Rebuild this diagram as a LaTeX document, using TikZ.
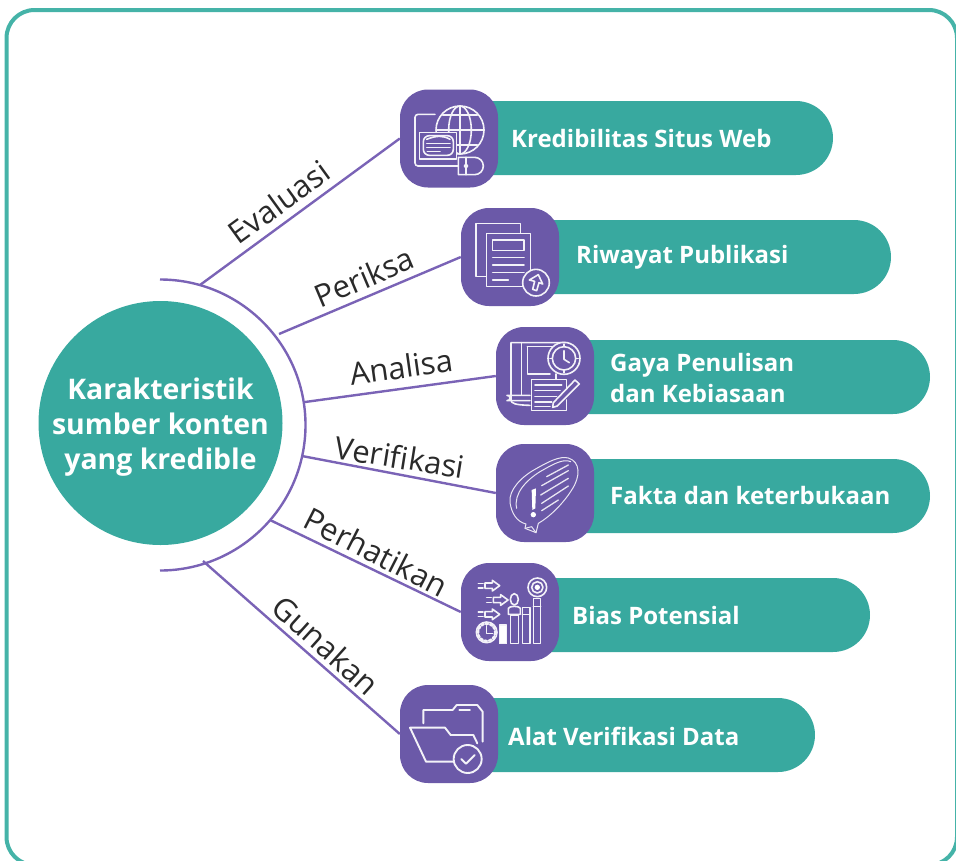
\documentclass[tikz,border=0pt]{standalone}
\usepackage{fontspec}
\setmainfont{Open Sans}
\definecolor{teal1}{HTML}{38A99F}
\definecolor{frame1}{HTML}{45B3A8}
\definecolor{purp}{HTML}{6B59A8}
\definecolor{purpl}{HTML}{7A63B6}
\definecolor{ink}{HTML}{2A2A2A}
\tikzset{
 iconbox/.style={fill=purp,rounded corners=28pt,minimum size=98pt,inner sep=0pt,draw=none},
 bartext/.style={text=white,font=\fontsize{24}{31}\selectfont\bfseries,align=left,anchor=west,inner sep=0pt},
 lab/.style={text=ink,font=\fontsize{31}{36}\selectfont,inner sep=0pt},
 conn/.style={draw=purpl,line width=2.4pt},
 ic/.style={draw=white!92!purp,line width=1.6pt,line join=round,line cap=round},
 icthin/.style={draw=white!85!purp,line width=1pt,line join=round,line cap=round},
}
\newcommand{\barshape}[5]{% name x1 x2 y1 y2
 \fill[teal1] (#2,#4) -- (#3-37,#4) arc[start angle=-90,end angle=90,radius=37] -- (#2,#5) -- cycle;
 \coordinate (#1) at (#2,#4);
}
\begin{document}
\begin{tikzpicture}[x=1pt,y=-1pt]
\useasboundingbox (0,0) rectangle (956,860);
\begin{scope}
\clip (0,0) rectangle (956,860);
\draw[frame1,line width=4pt,rounded corners=28pt] (6.5,10) rectangle (957,865);
\end{scope}

% arc and hub
\node[circle,fill=teal1,minimum size=244pt,inner sep=0pt] (hub) at (160.5,423) {};
\node[text=white,font=\fontsize{28.4}{35}\selectfont\bfseries,align=center] (hubt) at (160.5,427) {Karakteristik\\sumber konten\\yang kredible};
\draw[conn] (160,279.5) arc[start angle=-90,end angle=90,radius=145.5];
\coordinate (a1) at (200,285);
\coordinate (a2) at (279,334);
\coordinate (a3) at (305,402);
\coordinate (a4) at (302,456);
\coordinate (a5) at (270,520);
\coordinate (a6) at (203,561);

% bars
\barshape{b1}{480}{833}{101}{175}
\barshape{b2}{540}{891}{220}{294}
\barshape{b3}{575}{930}{340}{414}
\barshape{b4}{575}{930}{459}{533}
\barshape{b5}{540}{870}{578}{652}
\barshape{b6}{480}{815}{698}{772}

% icon tiles
\node[iconbox] (i1) at (449,138.5) {};
\node[iconbox] (i2) at (510,257) {};
\node[iconbox] (i3) at (545,376) {};
\node[iconbox] (i4) at (545,493) {};
\node[iconbox] (i5) at (510,612) {};
\node[iconbox] (i6) at (449,734) {};

% connectors
\draw[conn] (a1) -- (i1.west);
\draw[conn] (a2) -- (i2.west);
\draw[conn] (a3) -- (i3.west);
\draw[conn] (a4) -- (i4.west);
\draw[conn] (a5) -- (i5.west);
\draw[conn] (a6) -- (i6.west);

% connector labels
\node[lab,rotate=36] (l1) at (279,202) {Evaluasi};
\node[lab,rotate=23] (l2) at (364,277) {Periksa};
\node[lab,rotate=8] (l3) at (401,367) {Analisa};
\node[lab,rotate=-9] (l4) at (400,457) {Verifikasi};
\node[lab,rotate=-27] (l5) at (376,552) {Perhatikan};
\node[lab,rotate=-42] (l6) at (326,645) {Gunakan};

% bar labels
\node[bartext] (t1) at (511,138) {Kredibilitas Situs Web};
\node[bartext] (t2) at (576,257) {Riwayat Publikasi};
\node[bartext] (t3) at (610,378) {Gaya Penulisan\\dan Kebiasaan};
\node[bartext] (t4) at (610,495) {Fakta dan keterbukaan};
\node[bartext] (t5) at (572,615) {Bias Potensial};
\node[bartext] (t6) at (508,736) {Alat Verifikasi Data};

% ---- icon 1, icon 2: zoom coordinates
\begin{scope}[shift={(390,80)},scale=1/3]
 \begin{scope}
 \draw[ic,rounded corners=3pt] (135,103) -- (75,103) -- (75,258) -- (205,258);
 \draw[ic] (210,150) circle[radius=72];
 \draw[ic] (210,150) ellipse[x radius=34,y radius=72];
 \draw[ic] (210,78) -- (210,222);
 \draw[ic] (140,150) -- (282,150);
 \draw[ic] (158,105) -- (262,105);
 \draw[ic] (158,195) -- (262,195);
 \fill[purp] (86,155) rectangle (202,240);
 \fill[purp] (203,228) rectangle (284,286);
 \draw[ic] (88,157) rectangle (200,237);
 \draw[ic,rounded corners=6pt] (100,167) rectangle (190,226);
 \draw[ic] (110,178) .. controls (140,166) and (160,166) .. (180,178);
 \draw[ic] (110,190) -- (180,190);
 \draw[ic] (110,203) -- (180,203);
 \draw[ic] (112,214) -- (150,214);
 \draw[ic] (205,232) -- (254,232) arc[start angle=-90,end angle=90,radius=26] -- (205,284) -- cycle;
 \draw[ic] (228,232) -- (228,284);
 \draw[ic] (228,258) circle[radius=5];
 \end{scope}
 % icon 2
 \draw[ic] (392,458) -- (392,430) -- (258,430) -- (258,590) -- (288,590);
 \draw[ic] (400,620) -- (290,620) -- (290,460) -- (422,460) -- (422,570);
 \draw[ic] (308,480) rectangle (402,512);
 \draw[ic] (308,532) -- (402,532);
 \draw[ic] (308,555) -- (402,555);
 \draw[ic] (308,578) -- (402,578);
 \draw[ic] (308,600) -- (355,600);
 \draw[ic,fill=purp] (438,608) circle[radius=40];
 \draw[ic] (418,600) -- (445,584) -- (458,612) -- (447,608) -- (440,632) -- (428,628) -- (434,604) -- cycle;
\end{scope}

% ---- icons 3, 4
\begin{scope}[shift={(450,320)},scale=1/3]
 \draw[ic] (345,68) -- (183,68) -- (183,240) .. controls (183,250) and (195,255) .. (240,256);
 \draw[ic] (215,68) -- (215,225);
 \draw[ic,rounded corners=8pt] (240,226) -- (195,226) .. controls (183,226) and (183,242) .. (195,242) -- (240,242);
 \draw[ic] (232,80) -- (232,162) -- (300,162);
 \draw[ic] (232,80) -- (310,80);
 \draw[ic,fill=purp] (342,115) circle[radius=48];
 \draw[ic] (342,115) circle[radius=35];
 \draw[ic] (342,92) -- (342,118) -- (358,128);
 \draw[ic] (342,72) -- (342,80); \draw[ic] (342,150) -- (342,158);
 \draw[ic] (300,115) -- (307,115); \draw[ic] (377,115) -- (385,115);
 \draw[ic] (318,162) -- (318,178);
 \draw[ic] (350,210) -- (350,178) -- (245,178) -- (245,272) -- (350,272) -- (350,240);
 \foreach \yy/\xx in {195/335,212/330,229/320,246/305,260/300} \draw[ic] (255,\yy) -- (\xx,\yy);
 \draw[ic,fill=purp] (310,248) -- (375,180) -- (388,192) -- (322,258) -- (308,262) -- cycle;
 % icon 4
 \draw[icthin] (180,548) .. controls (175,510) and (215,470) .. (255,448) .. controls (300,422) and (330,408) .. (355,414) .. controls (392,425) and (392,470) .. (365,510) .. controls (340,550) and (300,590) .. (265,610) -- (258,638) -- (225,625) -- (228,612) .. controls (200,605) and (185,580) .. (180,548) -- cycle;
 \draw[icthin] (200,565) .. controls (190,520) and (230,480) .. (270,455) .. controls (310,432) and (340,415) .. (362,425);
 \draw[icthin] (225,625) -- (245,620) -- (258,638);
 \foreach \a/\b/\c/\d in {290/470/355/435,275/497/355/452,272/525/355/475,275/550/355/498,275/572/325/540} \draw[icthin,line width=1.3pt] (\a,\b) -- (\c,\d);
 \fill[white] (245,510) -- (258,505) -- (256,565) -- (247,570) -- cycle;
 \fill[white] (250,584) circle[radius=8];
\end{scope}

% ---- icons 5, 6
\begin{scope}[shift={(390,555)},scale=1/3]
 \foreach \yy/\xx in {92/285,135/310,178/285}{
  \draw[ic] (\xx,\yy-8) -- (\xx+22,\yy-8) -- (\xx+22,\yy-16) -- (\xx+44,\yy) -- (\xx+22,\yy+16) -- (\xx+22,\yy+8) -- (\xx,\yy+8) -- cycle;
  \draw[ic] (\xx-20,\yy-7) -- (\xx-6,\yy-7);
  \draw[ic] (\xx-20,\yy+7) -- (\xx-6,\yy+7);
 }
 \draw[ic] (290,232) circle[radius=31];
 \draw[ic,line width=2.4pt,dotted] (290,232) circle[radius=26];
 \draw[ic] (290,212) -- (290,236) -- (308,236);
 \draw[ic,fill=white] (328,210) rectangle (350,266);
 \draw[ic] (362,180) rectangle (385,266);
 \draw[ic] (397,158) rectangle (420,266);
 \draw[ic] (430,130) rectangle (452,266);
 \draw[ic] (397,178) -- (420,178);
 \draw[ic] (430,155) -- (452,155);
 \draw[ic,fill=purp] (373,133) ellipse[x radius=12,y radius=17];
 \draw[ic,fill=purp] (355,178) -- (355,160) .. controls (358,152) and (388,152) .. (391,160) -- (391,178) -- cycle;
 \draw[ic,fill=purp] (442,97) circle[radius=28];
 \draw[ic] (442,97) circle[radius=17];
 \fill[white] (442,97) circle[radius=8];
 % icon 6
 \draw[ic,line width=1.9pt] (100,505) -- (100,465) -- (188,465) -- (200,450) -- (262,450) -- (278,470) -- (278,560);
 \draw[ic,line width=1.9pt] (208,465) -- (240,465);
 \draw[ic,line width=1.9pt] (190,620) -- (108,620) -- (60,518) -- (165,518) -- (182,540) -- (250,540) -- (262,565);
 \draw[ic,line width=1.9pt,fill=purp] (233,612) circle[radius=42];
 \draw[ic,line width=1.9pt] (214,612) -- (228,626) -- (254,600);
\end{scope}
\end{tikzpicture}
\end{document}
